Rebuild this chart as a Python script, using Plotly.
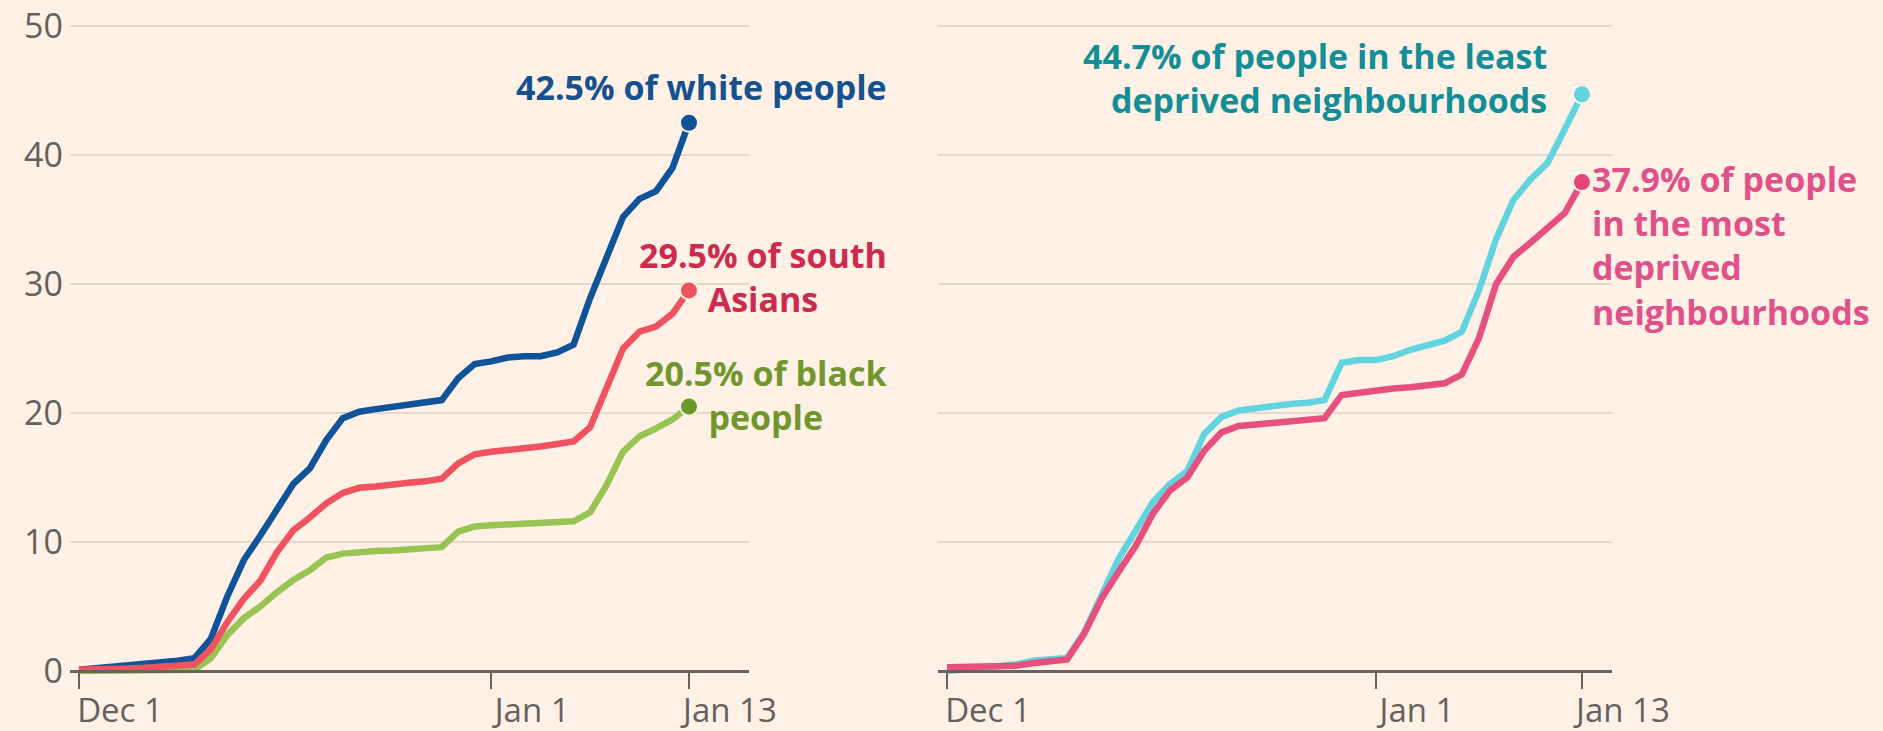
import pandas as pd
import plotly.graph_objects as go

# ---------------- data ----------------
dates = pd.date_range("2020-12-07", "2021-01-13", freq="D")

white = [0.1, 0.2, 0.3, 0.45, 0.55, 0.65, 0.8, 1.0, 2.5, 5.8,
         8.6, 10.5, 12.6, 14.5, 15.7, 17.9, 19.6, 20.1, 20.3, 20.5,
         20.7, 20.8, 21.0, 22.7, 23.8, 24.0, 24.3, 24.4, 24.4, 24.7,
         25.3, 28.9, 31.9, 35.2, 36.6, 37.2, 39.0, 42.5]
south_asian = [0.1, 0.1, 0.15, 0.2, 0.25, 0.3, 0.35, 0.5, 1.7, 3.8,
               5.6, 7.0, 9.2, 10.9, 11.9, 13.0, 13.8, 14.2, 14.3, 14.5,
               14.6, 14.7, 14.9, 16.1, 16.8, 17.0, 17.1, 17.2, 17.4, 17.6,
               17.8, 18.9, 22.0, 25.0, 26.3, 26.7, 27.7, 29.5]
black = [0.0, 0.0, 0.0, 0.0, 0.0, 0.0, 0.05, 0.1, 1.0, 2.8,
         4.1, 5.0, 6.1, 7.05, 7.8, 8.8, 9.1, 9.25, 9.3, 9.35,
         9.4, 9.5, 9.6, 10.8, 11.2, 11.3, 11.35, 11.4, 11.45, 11.5,
         11.6, 12.3, 14.4, 17.0, 18.2, 18.8, 19.5, 20.5]
least_deprived = [0.0, 0.1, 0.2, 0.35, 0.5, 0.8, 0.95, 1.0, 3.0, 5.9,
                  8.7, 10.9, 13.1, 14.5, 15.5, 18.4, 19.7, 20.2, 20.4, 20.5,
                  20.7, 20.8, 21.0, 23.9, 24.1, 24.1, 24.4, 24.9, 25.2, 25.6,
                  26.3, 29.5, 33.5, 36.5, 38.1, 39.4, 42.0, 44.7]
most_deprived = [0.3, 0.3, 0.3, 0.3, 0.4, 0.6, 0.8, 0.9, 2.9, 5.6,
                 7.7, 9.7, 12.2, 14.0, 15.0, 17.1, 18.5, 19.0, 19.1, 19.2,
                 19.3, 19.4, 19.6, 21.4, 21.6, 21.7, 21.9, 22.0, 22.1, 22.3,
                 23.0, 25.8, 30.0, 32.1, 33.2, 34.3, 35.5, 37.9]

tick_vals = ["2020-12-07", "2021-01-01", "2021-01-13"]
tick_text = ["Dec 1", "Jan 1", "Jan 13"]
y_ticks = [0, 10, 20, 30, 40, 50]

# ---------------- style ----------------
BG = "#FFF1E5"
GRID = "#E4D8CD"
AXIS = "#6B625D"
FONT = "Open Sans"

def ts(days):
    t = pd.Timestamp("2020-12-07") + pd.Timedelta(days=days)
    return t.strftime("%Y-%m-%d %H:%M:%S")

fig = go.Figure()

left_series = [
    (black, "#97C452", "#6A9A2A"),
    (white, "#0F5499", "#0F5499"),
    (south_asian, "#F1525F", "#F1525F"),
]
for vals, lc, dc in left_series:
    fig.add_trace(go.Scatter(x=dates, y=vals, mode="lines",
                             line=dict(color=lc, width=6.5),
                             xaxis="x", yaxis="y", hoverinfo="skip"))
    fig.add_trace(go.Scatter(x=[dates[-1]], y=[vals[-1]], mode="markers",
                             marker=dict(color=dc, size=18, line=dict(color=BG, width=2)),
                             xaxis="x", yaxis="y", hoverinfo="skip", cliponaxis=False))

right_series = [
    (least_deprived, "#62D4E0", "#62D4E0"),
    (most_deprived, "#E6507F", "#E24676"),
]
for vals, lc, dc in right_series:
    fig.add_trace(go.Scatter(x=dates, y=vals, mode="lines",
                             line=dict(color=lc, width=6.5),
                             xaxis="x2", yaxis="y2", hoverinfo="skip"))
    fig.add_trace(go.Scatter(x=[dates[-1]], y=[vals[-1]], mode="markers",
                             marker=dict(color=dc, size=18, line=dict(color=BG, width=2)),
                             xaxis="x2", yaxis="y2", hoverinfo="skip", cliponaxis=False))

xaxis_common = dict(
    type="date", tickmode="array", tickvals=tick_vals, ticktext=tick_text,
    showgrid=False, zeroline=False, showline=True, linecolor=AXIS, linewidth=2.5,
    ticks="outside", ticklen=16, tickwidth=2, tickcolor=AXIS,
    tickfont=dict(family=FONT, size=33, color="#66605C"),
    ticklabelshift=41, ticklabelstandoff=-6,
    anchor="free", position=0.014837, fixedrange=True, automargin=False,
)
yaxis_common = dict(
    range=[-0.775, 51.47], tickvals=y_ticks, showgrid=True, gridcolor=GRID,
    gridwidth=2, zeroline=False, showline=False, ticks="", fixedrange=True,
    tickfont=dict(family=FONT, size=34, color="#66605C"), automargin=False,
)

fig.update_layout(
    width=1883, height=731,
    margin=dict(l=70, r=271, t=7, b=50, autoexpand=False),
    paper_bgcolor=BG, plot_bgcolor=BG,
    showlegend=False,
    font=dict(family=FONT),
    xaxis=dict(domain=[0, 0.44034], range=[ts(-0.546), ts(40.64)], **xaxis_common),
    xaxis2=dict(domain=[0.56291, 1], range=[ts(-0.524), ts(38.75)], **xaxis_common),
    yaxis=dict(anchor="x", showticklabels=True, ticklabelstandoff=6, **yaxis_common),
    yaxis2=dict(anchor="x2", showticklabels=False, **yaxis_common),
)

last = dates[-1]
ann_font = 34
annotations = [
    dict(x=last, y=white[-1], xref="x", yref="y", text="42.5% of white people",
         xanchor="right", yanchor="middle", align="right", xshift=200, yshift=36,
         font=dict(family=FONT, size=ann_font, color="#15508F", weight="bold")),
    dict(x=last, y=south_asian[-1], xref="x", yref="y", text="29.5% of south<br>Asians",
         xanchor="right", yanchor="middle", align="center", xshift=200, yshift=13,
         font=dict(family=FONT, size=ann_font, color="#CC2B4E", weight="bold")),
    dict(x=last, y=black[-1], xref="x", yref="y", text="20.5% of black<br>people",
         xanchor="right", yanchor="middle", align="center", xshift=200, yshift=12,
         font=dict(family=FONT, size=ann_font, color="#71962D", weight="bold")),
    dict(x=last, y=least_deprived[-1], xref="x2", yref="y2",
         text="44.7% of people in the least<br>deprived neighbourhoods",
         xanchor="right", yanchor="middle", align="right", xshift=-33, yshift=16,
         font=dict(family=FONT, size=ann_font, color="#138E97", weight="bold")),
    dict(x=last, y=most_deprived[-1], xref="x2", yref="y2",
         text="37.9% of people<br>in the most<br>deprived<br>neighbourhoods",
         xanchor="left", yanchor="middle", align="left", xshift=8, yshift=-63,
         font=dict(family=FONT, size=ann_font, color="#E0508A", weight="bold")),
]
for a in annotations:
    a["showarrow"] = False
fig.update_layout(annotations=annotations)

fig.write_html(
    "out.html",
    config={"displayModeBar": False},
    post_script="document.body.style.margin='0px';document.body.style.background='#FFF1E5';",
)
